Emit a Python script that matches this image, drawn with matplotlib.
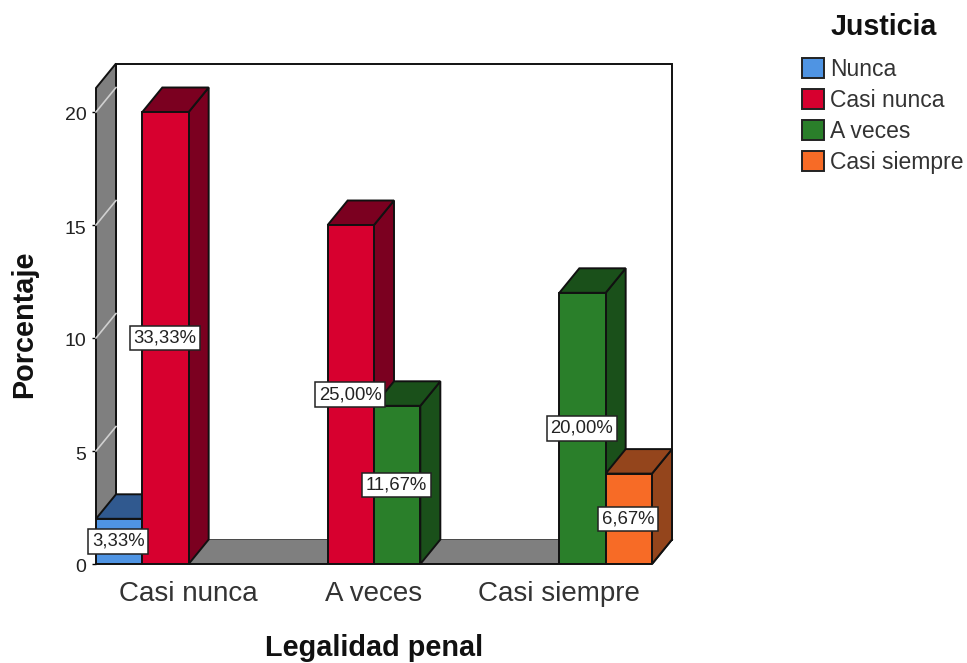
import matplotlib.pyplot as plt
from matplotlib.patches import Patch, Polygon
from matplotlib.transforms import ScaledTranslation

plt.rcParams['font.family'] = ['Liberation Sans', 'DejaVu Sans']

categories = ["Casi nunca", "A veces", "Casi siempre"]
series = ["Nunca", "Casi nunca", "A veces", "Casi siempre"]
yticks = [0, 5, 10, 15, 20]

# bar heights per series, 0 = no bar in that category
nunca = [2, 0, 0]
casi_nunca = [20, 15, 0]
a_veces = [0, 7, 12]
casi_siempre = [0, 0, 4]
values = [nunca, casi_nunca, a_veces, casi_siempre]

# percentage labels, same layout
lab_nunca = ["3,33%", "", ""]
lab_casi_nunca = ["33,33%", "25,00%", ""]
lab_a_veces = ["", "11,67%", "20,00%"]
lab_casi_siempre = ["", "", "6,67%"]
labels = [lab_nunca, lab_casi_nunca, lab_a_veces, lab_casi_siempre]

front = ["#4F94E3", "#D7002F", "#2A7F2A", "#F76B26"]
dark = ["#30598F", "#7B0020", "#1A501A", "#94451C"]
wall = "#7F7F7F"

W, H = 967, 663
fig = plt.figure(figsize=(W / 100, H / 100), dpi=100)
x0, x1, y0, y1 = 96, 652, 564, 88
ax = fig.add_axes([x0 / W, 1 - y0 / H, (x1 - x0) / W, (y0 - y1) / H])
ax.set_xlim(-0.5, 2.5)
ymax = (y0 - y1) / 22.6
ax.set_ylim(0, ymax)
ax.patch.set_visible(False)
for s in ax.spines.values():
    s.set_visible(False)

# depth of the fake 3d box, in data units
dx = 20 / ((x1 - x0) / 3)
dy = 24.5 / 22.6
xl, xr = -0.5, 2.5


def poly(pts, fc, ec="#111111", lw=1.4, z=1):
    ax.add_patch(Polygon(pts, closed=True, fc=fc, ec=ec, lw=lw, zorder=z, clip_on=False, joinstyle="miter"))


# back wall, left wall, floor
poly([(xl + dx, dy), (xr + dx, dy), (xr + dx, ymax + dy), (xl + dx, ymax + dy)], "white", z=1)
poly([(xl, 0), (xl + dx, dy), (xl + dx, ymax + dy), (xl, ymax)], wall, z=2)
poly([(xl, 0), (xr, 0), (xr + dx, dy), (xl + dx, dy)], wall, ec="none", lw=0, z=2)
ax.plot([xl, xr, xr + dx], [0, 0, dy], color="#111111", lw=1.4, zorder=2, clip_on=False)
for t in yticks[1:]:
    ax.plot([xl, xl + dx], [t, t + dy], color="#D0D0D0", lw=1.2, zorder=3, clip_on=False)

# bars, left to right so the sides get covered properly
bw = 0.25
z = 4
for i in range(len(categories)):
    for j in range(len(series)):
        v = values[j][i]
        if v == 0:
            continue
        left = i + (j - 2) * bw
        right = left + bw
        poly([(right, 0), (right + dx, dy), (right + dx, v + dy), (right, v)], dark[j], z=z)
        poly([(left, v), (right, v), (right + dx, v + dy), (left + dx, v + dy)], dark[j], z=z)
        ax.bar(left, v, bw, align="edge", color=front[j], edgecolor="#111111", lw=1.4, zorder=z + 0.5)
        z += 1

for i in range(len(categories)):
    for j in range(len(series)):
        if labels[j][i]:
            ax.text(i + (j - 1.5) * bw - 0.004, values[j][i] / 2, labels[j][i], ha="center", va="center",
                    fontsize=13.3, color="#222222", zorder=50,
                    bbox=dict(boxstyle="square,pad=0.2", fc="white", ec="#222222", lw=1.1))

ax.set_xticks(range(len(categories)), categories, fontsize=20, color="#333333")
ax.set_yticks(yticks, [str(t) for t in yticks], fontsize=14, color="#222222")
ax.tick_params(axis="x", length=0, pad=12)
ax.tick_params(axis="y", length=3, width=1, pad=4)
# numbers sit a little low in the reference
nudge = ScaledTranslation(0, -2 / 100, fig.dpi_scale_trans)
for lab in ax.get_yticklabels():
    lab.set_transform(lab.get_transform() + nudge)

fig.text(24.5 / W, 1 - 324 / H, "Porcentaje", rotation=90, ha="center", va="center",
         fontsize=20.8, fontweight="bold", color="#111111")
fig.text(374 / W, 1 - 648.5 / H, "Legalidad penal", ha="center", va="center",
         fontsize=20.8, fontweight="bold", color="#111111")
fig.text(884 / W, 1 - 27 / H, "Justicia", ha="center", va="center",
         fontsize=20.6, fontweight="bold", color="#111111")

handles = [Patch(fc=c, ec="#222222", lw=1.4) for c in front]
fs = 16.5
px = fs * 100 / 72
leg = fig.legend(handles, series, loc="upper left", bbox_to_anchor=(802 / W, 1 - 58 / H), fontsize=fs,
                 frameon=False, handlelength=22 / px, handleheight=22 / px, labelspacing=8 / px,
                 handletextpad=6 / px, borderpad=0, borderaxespad=0)
for t in leg.get_texts():
    t.set_color("#333333")

fig.savefig("out.png", dpi=100)
